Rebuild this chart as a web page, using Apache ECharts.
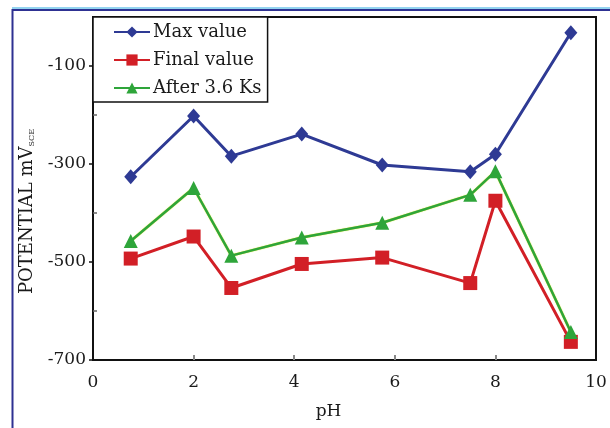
<!DOCTYPE html>
<html>
<head>
<meta charset="utf-8">
<script src="https://cdn.jsdelivr.net/npm/echarts@6/dist/echarts.min.js"></script>
<style>html,body{margin:0;padding:0;background:#fff}#c{width:610px;height:428px}</style>
</head>
<body>
<div id="c"></div>
<script>
const pH = [0.75, 2, 2.75, 4.15, 5.75, 7.5, 8, 9.5];
const maxValue = [-326, -202, -284, -239, -302, -316, -280, -32];
const finalValue = [-493, -448, -553, -504, -491, -543, -375, -663];
const after36Ks = [-457, -349, -487, -450, -420, -363, -315, -643];
const xTickLabels = [0, 2, 4, 6, 8, 10];
const yTickLabels = [-700, -500, -300, -100];
const yMinorTicks = [-600, -400, -200];
const xInnerTicks = [2, 4, 6, 8];
const seriesNames = ['Max value', 'Final value', 'After 3.6 Ks'];

const FONT = 'DejaVu Serif';
const pairs = vals => pH.map((x, i) => [x, vals[i]]);

const chart = echarts.init(document.getElementById('c'));
chart.setOption({
  animation: false,
  backgroundColor: '#fff',
  textStyle: { fontFamily: FONT, color: '#1a1a1a' },
  grid: { left: 93, right: 14, top: 17, bottom: 68, show: true, borderColor: '#111', borderWidth: 2, backgroundColor: 'transparent' },
  graphic: [
    { type: 'line', shape: { x1: 12, y1: 8, x2: 610, y2: 8 }, style: { stroke: '#29a9e0', lineWidth: 1 } },
    { type: 'line', shape: { x1: 12, y1: 10, x2: 610, y2: 10 }, style: { stroke: '#2e3192', lineWidth: 2 } },
    { type: 'line', shape: { x1: 12.5, y1: 9, x2: 12.5, y2: 428 }, style: { stroke: '#2e3192', lineWidth: 2 } }
  ],
  legend: {
    orient: 'vertical', left: 93, top: 17,
    backgroundColor: '#fff', borderColor: '#111', borderWidth: 1.5,
    padding: [6, 6, 5, 20],
    itemWidth: 36, itemHeight: 14, itemGap: 10,
    textStyle: { fontFamily: FONT, fontSize: 18, color: '#1a1a1a', padding: [0, 0, 0, -2] },
    data: seriesNames
  },
  xAxis: {
    type: 'value', min: 0, max: 10, interval: 2,
    name: 'pH', nameLocation: 'middle', nameGap: 43,
    nameTextStyle: { fontFamily: FONT, fontSize: 17, color: '#1a1a1a', padding: [0, 32, 0, 0] },
    axisLine: { show: true, onZero: false, lineStyle: { color: '#111', width: 2 } },
    axisTick: { show: true, inside: true, length: 5, customValues: xInnerTicks, lineStyle: { color: '#888', width: 2 } },
    axisLabel: { show: true, fontFamily: FONT, fontSize: 17, color: '#1a1a1a', margin: 14, customValues: xTickLabels },
    splitLine: { show: false }
  },
  yAxis: [{
    type: 'value', min: -700, max: 0,
    name: '{a|POTENTIAL mV}{s|SCE}', nameLocation: 'middle', nameGap: 57,
    nameTextStyle: {
      fontFamily: FONT, fontSize: 18, color: '#1a1a1a', padding: [0, 46, 0, 0],
      rich: {
        a: { fontFamily: FONT, fontSize: 18, color: '#1a1a1a', verticalAlign: 'bottom', lineHeight: 20 },
        s: { fontFamily: FONT, fontSize: 8, color: '#1a1a1a', verticalAlign: 'bottom', lineHeight: 15 }
      }
    },
    axisLine: { show: true, onZero: false, lineStyle: { color: '#111', width: 2 } },
    axisTick: { show: true, inside: false, length: 4, customValues: yTickLabels, lineStyle: { color: '#111', width: 1.5 } },
    axisLabel: { show: true, fontFamily: FONT, fontSize: 17, color: '#1a1a1a', margin: 7, customValues: yTickLabels },
    splitLine: { show: false }
  }, {
    type: 'value', min: -700, max: 0, position: 'left',
    axisLine: { show: false, onZero: false },
    axisTick: { show: true, inside: true, length: 4, customValues: yMinorTicks, lineStyle: { color: '#666', width: 1.5 } },
    axisLabel: { show: false },
    splitLine: { show: false }
  }],
  series: [
    { name: seriesNames[0], type: 'line', data: pairs(maxValue), symbol: 'diamond', symbolSize: [13, 15],
      itemStyle: { color: '#2e3a94' }, lineStyle: { color: '#2e3a94', width: 3 } },
    { name: seriesNames[1], type: 'line', data: pairs(finalValue), symbol: 'rect', symbolSize: 14,
      itemStyle: { color: '#d21f26' }, lineStyle: { color: '#d21f26', width: 3 } },
    { name: seriesNames[2], type: 'line', data: pairs(after36Ks), symbol: 'triangle', symbolSize: 14,
      itemStyle: { color: '#2ea53a' }, lineStyle: { color: '#2ea53a', width: 2.5, shadowColor: '#d8e000', shadowBlur: 1 } }
  ]
});
</script>
</body>
</html>
